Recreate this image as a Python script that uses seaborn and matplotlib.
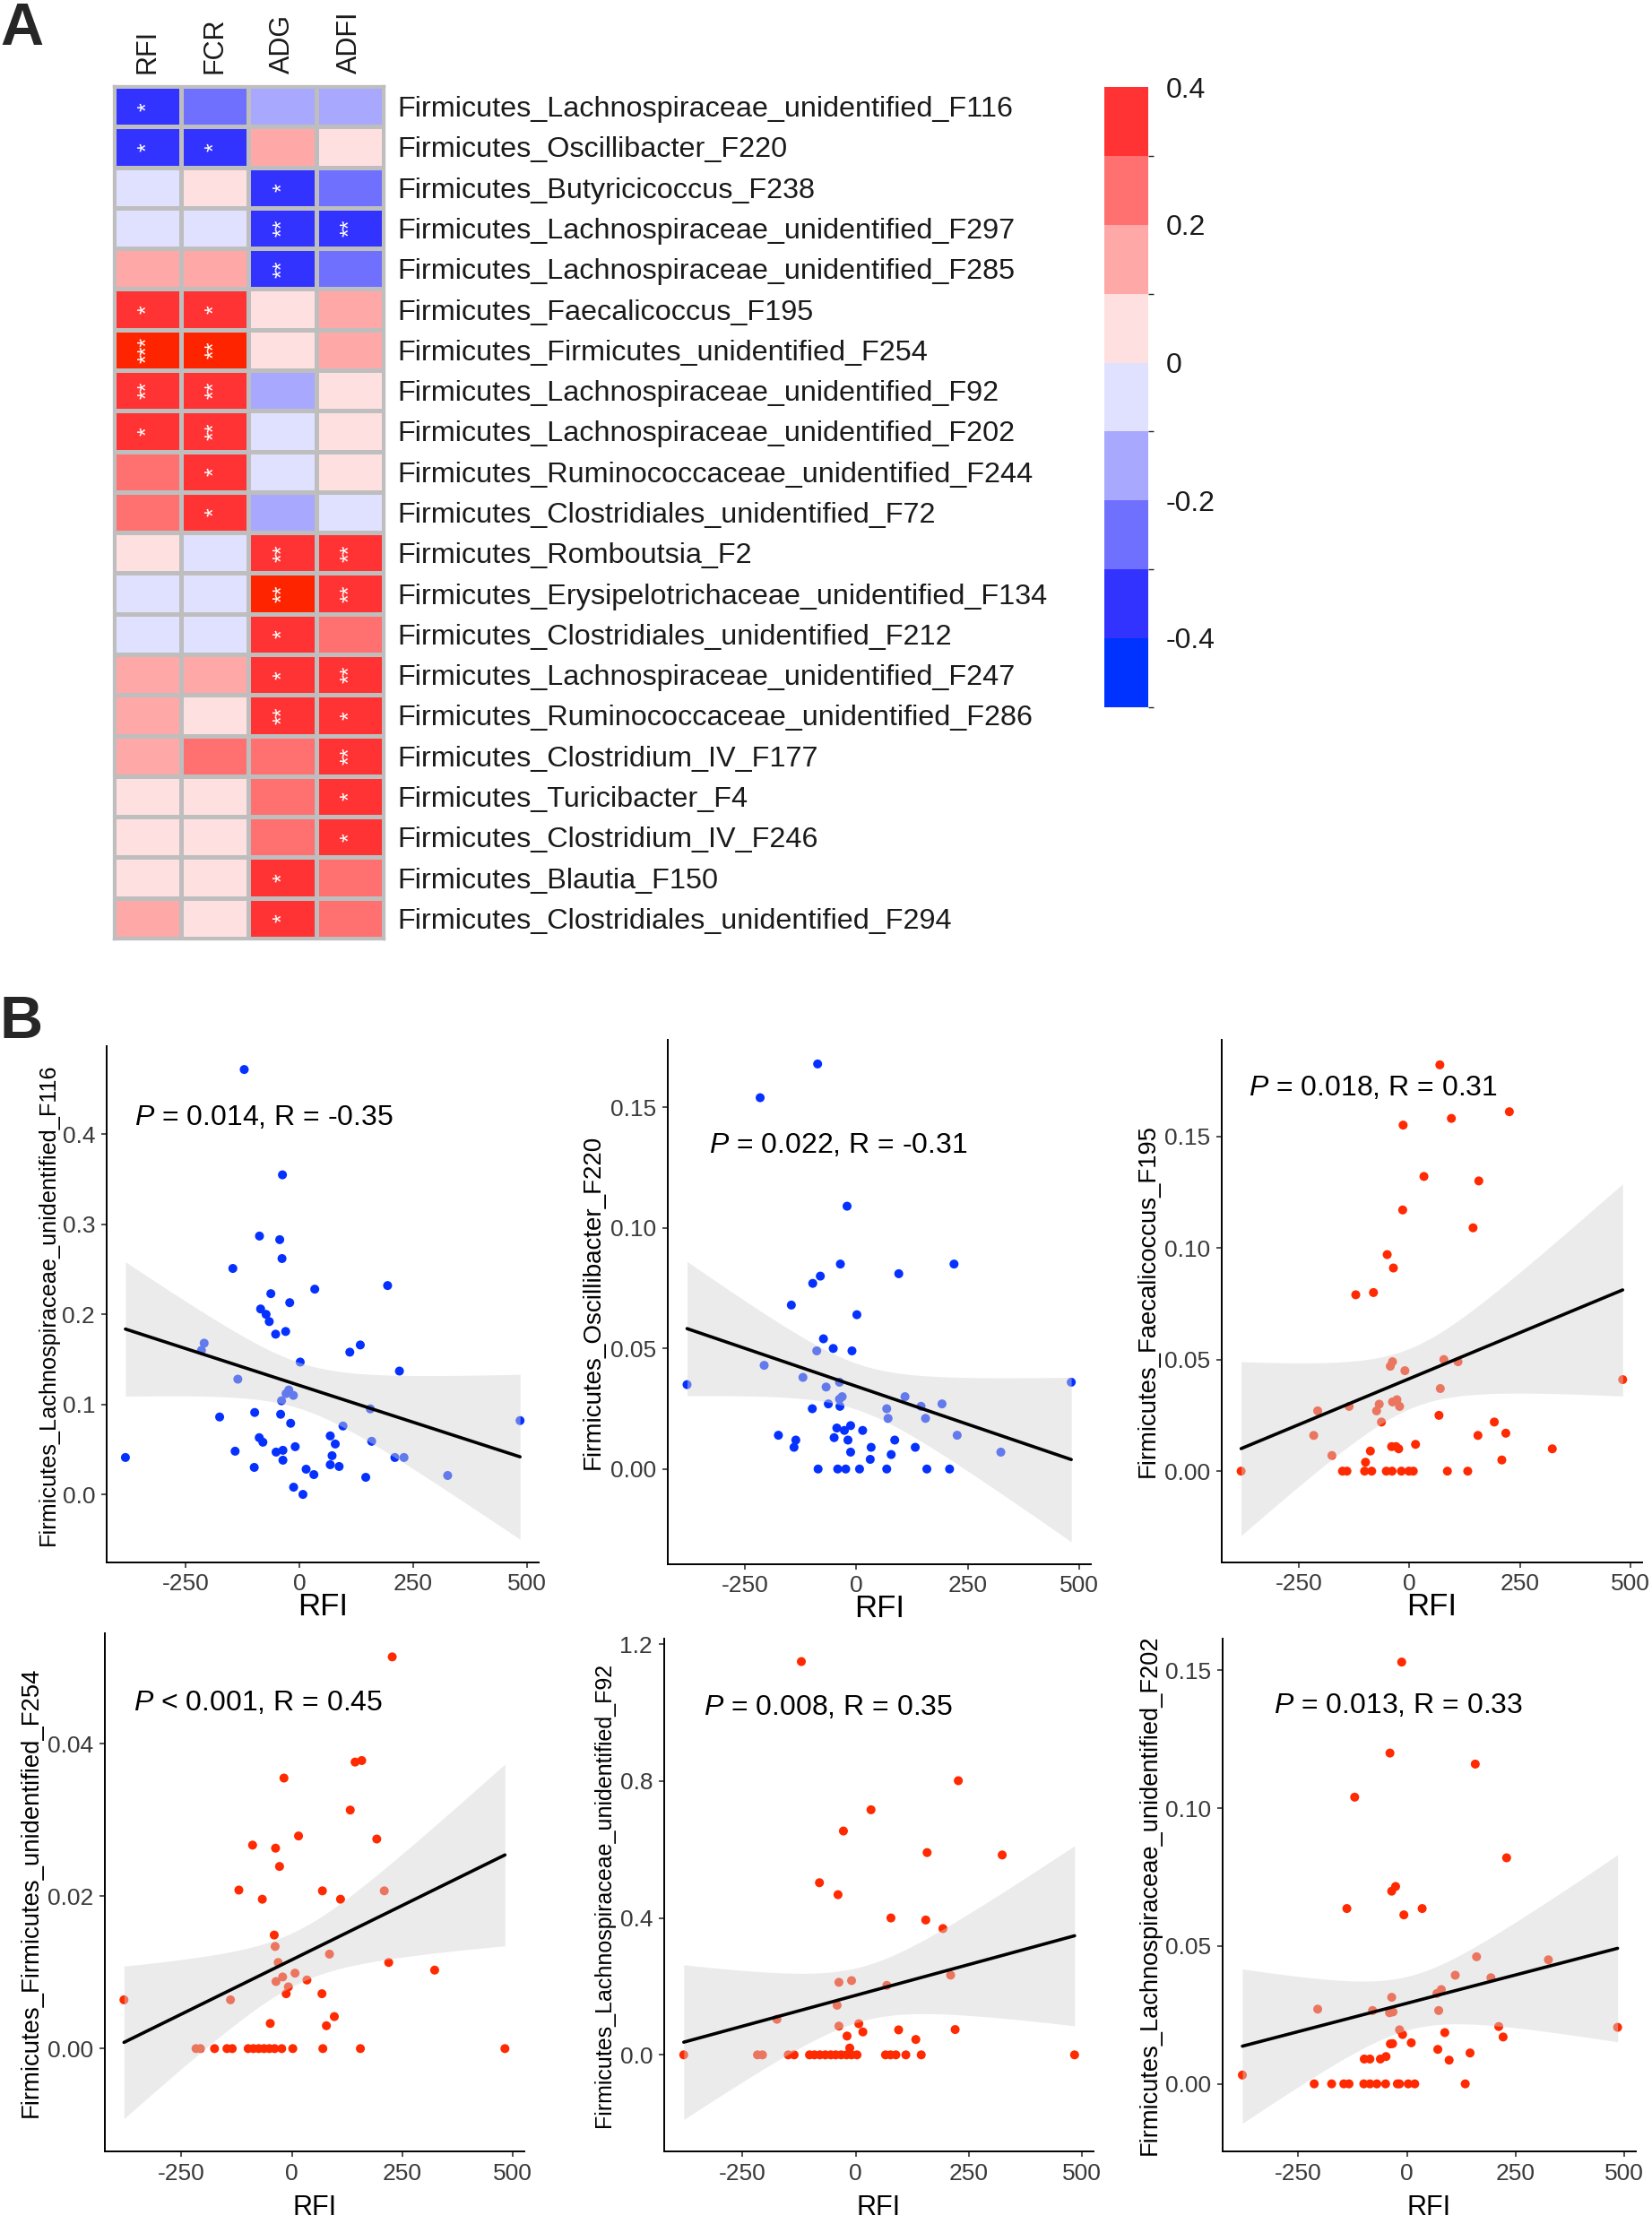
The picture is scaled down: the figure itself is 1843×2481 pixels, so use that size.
import numpy as np
import pandas as pd
import matplotlib
matplotlib.use("Agg")
import matplotlib.pyplot as plt
import seaborn as sns
from matplotlib.colors import ListedColormap, BoundaryNorm
from matplotlib.cm import ScalarMappable

sns.set_theme(style="ticks")
plt.rcParams["font.family"] = ["Liberation Sans", "DejaVu Sans"]
plt.rcParams["mathtext.fontset"] = "custom"
plt.rcParams["mathtext.it"] = "Liberation Sans:italic"
plt.rcParams["mathtext.rm"] = "Liberation Sans"

# ---------------------------------------------------------------
# Panel A: correlation heatmap
# ---------------------------------------------------------------
taxa = [
    "Firmicutes_Lachnospiraceae_unidentified_F116",
    "Firmicutes_Oscillibacter_F220",
    "Firmicutes_Butyricicoccus_F238",
    "Firmicutes_Lachnospiraceae_unidentified_F297",
    "Firmicutes_Lachnospiraceae_unidentified_F285",
    "Firmicutes_Faecalicoccus_F195",
    "Firmicutes_Firmicutes_unidentified_F254",
    "Firmicutes_Lachnospiraceae_unidentified_F92",
    "Firmicutes_Lachnospiraceae_unidentified_F202",
    "Firmicutes_Ruminococcaceae_unidentified_F244",
    "Firmicutes_Clostridiales_unidentified_F72",
    "Firmicutes_Romboutsia_F2",
    "Firmicutes_Erysipelotrichaceae_unidentified_F134",
    "Firmicutes_Clostridiales_unidentified_F212",
    "Firmicutes_Lachnospiraceae_unidentified_F247",
    "Firmicutes_Ruminococcaceae_unidentified_F286",
    "Firmicutes_Clostridium_IV_F177",
    "Firmicutes_Turicibacter_F4",
    "Firmicutes_Clostridium_IV_F246",
    "Firmicutes_Blautia_F150",
    "Firmicutes_Clostridiales_unidentified_F294",
]
traits = ["RFI", "FCR", "ADG", "ADFI"]

r_rfi = [-0.35, -0.31, -0.05, -0.04, 0.15, 0.31, 0.45, 0.35, 0.33, 0.27, 0.26,
         0.05, -0.05, -0.06, 0.14, 0.13, 0.12, 0.06, 0.04, 0.05, 0.14]
r_fcr = [-0.25, -0.32, 0.04, -0.06, 0.14, 0.32, 0.42, 0.36, 0.34, 0.31, 0.30,
         -0.04, -0.05, -0.05, 0.13, 0.06, 0.22, 0.05, 0.05, 0.04, 0.06]
r_adg = [-0.15, 0.16, -0.33, -0.38, -0.36, 0.05, 0.06, -0.15, -0.06, -0.05, -0.17,
         0.37, 0.43, 0.33, 0.32, 0.36, 0.25, 0.24, 0.23, 0.31, 0.32]
r_adfi = [-0.15, 0.05, -0.26, -0.37, -0.25, 0.15, 0.16, 0.05, 0.04, 0.05, -0.05,
          0.36, 0.37, 0.26, 0.36, 0.33, 0.37, 0.31, 0.32, 0.24, 0.25]

sig_rfi = ["*", "*", "", "", "", "*", "***", "**", "*", "", "", "", "", "", "", "", "", "", "", "", ""]
sig_fcr = ["", "*", "", "", "", "*", "**", "**", "**", "*", "*", "", "", "", "", "", "", "", "", "", ""]
sig_adg = ["", "", "*", "**", "**", "", "", "", "", "", "", "**", "**", "*", "*", "**", "", "", "", "*", "*"]
sig_adfi = ["", "", "", "**", "", "", "", "", "", "", "", "**", "**", "", "**", "*", "**", "*", "*", "", ""]

bin_colors = ["#0033FF", "#3333FF", "#7070FF", "#A8A8FF", "#E0E0FF",
              "#FFE0E0", "#FFA8A8", "#FF7070", "#FF3333", "#FF2400"]
bounds = np.round(np.arange(-0.5, 0.51, 0.1), 1)
cbar_ticks = [-0.4, -0.2, 0, 0.2, 0.4]
cbar_labels = ["-0.4", "-0.2", "0", "0.2", "0.4"]

# ---------------------------------------------------------------
# Panel B: abundance vs RFI (RFI, relative abundance) per taxon
# ---------------------------------------------------------------
f116 = [(-121, 0.472), (-37, 0.355), (-87.5, 0.287), (-43, 0.283), (-38, 0.262), (-146, 0.251),
        (34, 0.228), (194, 0.232), (-62.5, 0.223), (-21, 0.213), (-85, 0.206), (-73, 0.200),
        (-66, 0.192), (-30, 0.181), (-52, 0.178), (-209, 0.168), (-215, 0.160), (134, 0.166),
        (111, 0.158), (2, 0.147), (220, 0.137), (-135, 0.128), (-23, 0.116), (-29, 0.112),
        (-13, 0.110), (-39, 0.104), (156, 0.095), (-98, 0.091), (-41, 0.089), (-175, 0.086),
        (485, 0.082), (-19, 0.079), (96, 0.076), (68, 0.065), (-88, 0.063), (-80, 0.058),
        (159, 0.059), (79, 0.056), (-9, 0.053), (-36, 0.049), (-51, 0.047), (-141, 0.048),
        (-382, 0.041), (72, 0.043), (210, 0.041), (230, 0.041), (-36, 0.038), (68, 0.033),
        (87.5, 0.031), (-99, 0.030), (15, 0.028), (32, 0.022), (146, 0.019), (326, 0.021),
        (-12.5, 0.008), (8, 0.000)]

f220 = [(-87, 0.168), (-216, 0.154), (-21, 0.109), (-36, 0.085), (219, 0.085), (-81, 0.080),
        (95, 0.081), (-98, 0.077), (-146, 0.068), (1, 0.064), (-74, 0.054), (-52, 0.050),
        (-10, 0.049), (-89, 0.049), (-207, 0.043), (-380, 0.035), (482, 0.036), (-120, 0.038),
        (-68, 0.034), (-38, 0.036), (-32, 0.030), (-38, 0.029), (109, 0.030), (145, 0.026),
        (192, 0.027), (68, 0.025), (71, 0.021), (155, 0.021), (-63, 0.027), (-37, 0.026),
        (-99, 0.025), (226, 0.014), (324, 0.007), (-175, 0.014), (-136, 0.012), (-140, 0.009),
        (-44, 0.017), (-27, 0.016), (-13, 0.018), (14, 0.016), (-50, 0.013), (-19, 0.012),
        (86, 0.012), (33, 0.009), (132, 0.009), (-13, 0.007), (78, 0.006), (31, 0.004),
        (-86, 0.0), (-42, 0.0), (-24, 0.0), (7, 0.0), (68, 0.0), (158, 0.0), (209, 0.0)]

f195 = [(69, 0.182), (226, 0.161), (95, 0.158), (-14, 0.155), (33, 0.132), (157, 0.130),
        (-15, 0.117), (144, 0.109), (-50, 0.097), (-36, 0.091), (-121, 0.079), (-81, 0.080),
        (-38, 0.049), (78, 0.050), (110, 0.049), (-43, 0.047), (-10, 0.045), (70, 0.037),
        (482, 0.041), (-28, 0.032), (-38, 0.031), (-22, 0.029), (-68, 0.030), (-74, 0.027),
        (-136, 0.029), (-207, 0.027), (-63, 0.022), (-216, 0.016), (-175, 0.007), (67, 0.025),
        (192, 0.022), (218, 0.017), (155, 0.016), (14, 0.012), (-40, 0.011), (-30, 0.011),
        (-24, 0.010), (-88, 0.009), (-99, 0.004), (323, 0.010), (209, 0.005), (-380, 0.0),
        (-151, 0.0), (-141, 0.0), (-101, 0.0), (-85, 0.0), (-52, 0.0), (-39, 0.0), (-18, 0.0),
        (-1, 0.0), (9, 0.0), (86, 0.0), (132, 0.0)]

f254 = [(227, 0.0514), (143, 0.0376), (158, 0.0378), (-18, 0.0355), (132, 0.0313), (15, 0.0279),
        (192, 0.0275), (-89, 0.0267), (-37, 0.0263), (-28, 0.0239), (-120, 0.0208), (69, 0.0207),
        (209, 0.0207), (-67, 0.0196), (110, 0.0196), (-40, 0.0149), (-38, 0.0134), (85, 0.0124),
        (-31, 0.0113), (219, 0.0113), (7, 0.0099), (323, 0.0103), (-21, 0.0094), (34, 0.0090),
        (-36, 0.0088), (-8, 0.0081), (-13, 0.0072), (68, 0.0072), (-380, 0.0064), (-139, 0.0064),
        (96, 0.0042), (78, 0.0030), (-49, 0.0033), (-217, 0.0), (-207, 0.0), (-175, 0.0),
        (-147, 0.0), (-135, 0.0), (-99, 0.0), (-87, 0.0), (-75, 0.0), (-63, 0.0), (-51, 0.0),
        (-39, 0.0), (-23, 0.0), (2, 0.0), (70, 0.0), (155, 0.0), (482, 0.0)]

f92 = [(-120, 1.149), (227, 0.801), (34, 0.716), (-27, 0.654), (158, 0.591), (324, 0.584),
       (-80, 0.503), (-39, 0.468), (78, 0.400), (155, 0.394), (193, 0.369), (210, 0.233),
       (-37, 0.212), (-9, 0.217), (69, 0.203), (-41, 0.145), (-174, 0.104), (-37, 0.084),
       (7, 0.091), (95, 0.073), (220, 0.074), (16, 0.067), (-19, 0.055), (133, 0.045),
       (-13, 0.020), (-380, 0.0), (-217, 0.0), (-206, 0.0), (-149, 0.0), (-136, 0.0),
       (-102, 0.0), (-91, 0.0), (-79, 0.0), (-67, 0.0), (-55, 0.0), (-44, 0.0), (-32, 0.0),
       (-20, 0.0), (-9, 0.0), (3, 0.0), (66, 0.0), (77, 0.0), (89, 0.0), (111, 0.0),
       (145, 0.0), (484, 0.0)]

f202 = [(-12, 0.153), (-39, 0.120), (157, 0.116), (-120, 0.104), (229, 0.082), (-26, 0.0716),
        (-35, 0.0699), (-138, 0.0636), (35, 0.0636), (-7, 0.0613), (160, 0.0461), (325, 0.0450),
        (111, 0.0394), (193, 0.0385), (79, 0.0342), (69, 0.0328), (-35, 0.0314), (-205, 0.0271),
        (-79, 0.0266), (73, 0.0266), (-32, 0.0261), (-40, 0.0258), (-17, 0.0196), (211, 0.0208),
        (484, 0.0205), (-10, 0.0179), (87, 0.0186), (221, 0.0170), (-38, 0.0145), (-33, 0.0146),
        (10, 0.0149), (145, 0.0112), (71, 0.0125), (-98, 0.0090), (-85, 0.0090), (-61, 0.0090),
        (-48, 0.0099), (97, 0.0086), (-378, 0.0032), (-213, 0.0), (-173, 0.0), (-145, 0.0),
        (-133, 0.0), (-99, 0.0), (-85, 0.0), (-69, 0.0), (-49, 0.0), (-22, 0.0), (-17, 0.0),
        (3, 0.0), (18, 0.0), (134, 0.0)]

stat_text = [
    r"$\mathit{P}$ = 0.014, R = -0.35",
    r"$\mathit{P}$ = 0.022, R = -0.31",
    r"$\mathit{P}$ = 0.018, R = 0.31",
    r"$\mathit{P}$ < 0.001, R = 0.45",
    r"$\mathit{P}$ = 0.008, R = 0.35",
    r"$\mathit{P}$ = 0.013, R = 0.33",
]

BLUE = "#0531FF"
RED = "#FF2A00"
W, H = 1843, 2481

fig = plt.figure(figsize=(W / 100, H / 100), dpi=100)

# ---- heatmap ----
corr = pd.DataFrame({"RFI": r_rfi, "FCR": r_fcr, "ADG": r_adg, "ADFI": r_adfi}, index=taxa)
stars = np.array([sig_rfi, sig_fcr, sig_adg, sig_adfi]).T
cmap = ListedColormap(bin_colors)
norm = BoundaryNorm(bounds, cmap.N)

ax_h = fig.add_axes([127 / W, 1 - 1047 / H, 301 / W, 951 / H])
sns.heatmap(corr, ax=ax_h, cmap=cmap, norm=norm, cbar=False,
            linewidths=2.4, linecolor="#BEBEBE",
            annot=stars, fmt="",
            annot_kws=dict(color="white", fontsize=18, rotation=90))
ax_h.xaxis.tick_top()
ax_h.set_xticklabels(traits, rotation=90, fontsize=22)
ax_h.yaxis.tick_right()
ax_h.set_yticklabels(taxa, rotation=0, fontsize=23.3)
ax_h.tick_params(axis="x", length=0, pad=10, colors="#1a1a1a")
ax_h.tick_params(axis="y", length=0, pad=11, colors="#1a1a1a")
ax_h.set_xlabel("")
ax_h.set_ylabel("")
for sp in ax_h.spines.values():
    sp.set_visible(True)
    sp.set_color("#BEBEBE")
    sp.set_linewidth(2.4)

# ---- colour key (shows the -0.5 .. 0.4 range only) ----
key_cmap = ListedColormap(bin_colors[:-1])
key_norm = BoundaryNorm(bounds[:-1], key_cmap.N)
ax_c = fig.add_axes([1231.7 / W, 1 - 788.5 / H, 49.3 / W, 691.2 / H])
sm = ScalarMappable(norm=key_norm, cmap=key_cmap)
cb = fig.colorbar(sm, cax=ax_c, ticks=cbar_ticks)
cb.outline.set_visible(False)
cb.set_ticklabels(cbar_labels)
ax_c.tick_params(length=0, pad=14, labelsize=23, colors="#1a1a1a")

fig.text(0.0, 1 - 50 / H, "A", fontsize=48, fontweight="bold", ha="left", va="baseline")
fig.text(0.0, 1 - 1158 / H, "B", fontsize=48, fontweight="bold", ha="left", va="baseline")


# ---- scatter panels ----
def ci_band(x, y, grid):
    n = len(x)
    b, a = np.polyfit(x, y, 1)
    fit = a + b * grid
    resid = y - (a + b * x)
    s = np.sqrt(np.sum(resid ** 2) / (n - 2))
    sxx = np.sum((x - x.mean()) ** 2)
    se = s * np.sqrt(1 / n + (grid - x.mean()) ** 2 / sxx)
    t = 1.96 + 2.4 / (n - 2)
    return fit - t * se, fit + t * se


panels = [
    dict(data=f116, name="Firmicutes_Lachnospiraceae_unidentified_F116", color=BLUE,
         rect=(118.6, 1167, 601, 1743), ylim=(-0.0756, 0.498), yticks=[0, 0.1, 0.2, 0.3, 0.4],
         fmt="{:.1f}", txt=(-363, 0.418), labx=-0.135, labsize=18.2),
    dict(data=f220, name="Firmicutes_Oscillibacter_F220", color=BLUE,
         rect=(744.6, 1160, 1217, 1745), ylim=(-0.0395, 0.178), yticks=[0, 0.05, 0.10, 0.15],
         fmt="{:.2f}", txt=(-331, 0.134), labx=-0.176, labsize=20),
    dict(data=f195, name="Firmicutes_Faecalicoccus_F195", color=RED,
         rect=(1362.9, 1160, 1832, 1743), ylim=(-0.0409, 0.1932), yticks=[0, 0.05, 0.10, 0.15],
         fmt="{:.2f}", txt=(-364, 0.1717), labx=-0.175, labsize=19.8),
    dict(data=f254, name="Firmicutes_Firmicutes_unidentified_F254", color=RED,
         rect=(116.6, 1822, 585, 2400), ylim=(-0.01349, 0.0545), yticks=[0, 0.02, 0.04],
         fmt="{:.2f}", txt=(-358, 0.0453), labx=-0.175, labsize=19.8),
    dict(data=f92, name="Firmicutes_Lachnospiraceae_unidentified_F92", color=RED,
         rect=(740.6, 1828, 1220, 2400), ylim=(-0.282, 1.216), yticks=[0, 0.4, 0.8, 1.2],
         fmt="{:.1f}", txt=(-337, 1.014), labx=-0.138, labsize=18),
    dict(data=f202, name="Firmicutes_Lachnospiraceae_unidentified_F202", color=RED,
         rect=(1363.7, 1828, 1825, 2400), ylim=(-0.0245, 0.1615), yticks=[0, 0.05, 0.10, 0.15],
         fmt="{:.2f}", txt=(-307, 0.137), labx=-0.175, labsize=19.6),
]

for p, label in zip(panels, stat_text):
    x0, y0, x1, y1 = p["rect"]
    ax = fig.add_axes([x0 / W, 1 - y1 / H, (x1 - x0) / W, (y1 - y0) / H])
    df = pd.DataFrame(p["data"], columns=["RFI", "abund"])

    sns.scatterplot(data=df, x="RFI", y="abund", ax=ax, color=p["color"], s=52,
                    edgecolor="none", linewidth=0, zorder=2)
    xs = np.linspace(df["RFI"].min(), df["RFI"].max(), 200)
    lo, hi = ci_band(df["RFI"].values, df["abund"].values, xs)
    ax.fill_between(xs, lo, hi, color="#d4d4d4", alpha=0.45, lw=0, zorder=3)
    sns.regplot(data=df, x="RFI", y="abund", ax=ax, scatter=False, ci=None,
                color="black", line_kws=dict(lw=2.6, zorder=4))

    ax.set_xlim(-424, 526)
    ax.set_ylim(*p["ylim"])
    ax.set_xticks([-250, 0, 250, 500])
    ax.set_xticklabels(["-250", "0", "250", "500"])
    ax.set_yticks(p["yticks"])
    ax.set_yticklabels([p["fmt"].format(v) for v in p["yticks"]])

    sns.despine(ax=ax)
    for side in ["left", "bottom"]:
        ax.spines[side].set_color("black")
        ax.spines[side].set_linewidth(1.4)
    ax.tick_params(direction="out", length=4, width=1.2, color="#333333",
                   labelcolor="#3a3a3a", labelsize=19, pad=5)

    if y1 > 2000:
        # bottom row: keep the title inside the canvas
        ax.set_xlabel("RFI", fontsize=22, color="black")
        ax.xaxis.label.set_va("bottom")
        ax.xaxis.set_label_coords(0.5, -(H - 3 - y1) / (y1 - y0))
    else:
        ax.set_xlabel("RFI", fontsize=25, color="black")
        ax.xaxis.label.set_va("center")
        ax.xaxis.set_label_coords(0.5, -50 / (y1 - y0))
    ax.set_ylabel(p["name"], fontsize=p["labsize"], color="black")
    ax.yaxis.label.set_va("center")
    ax.yaxis.set_label_coords(p["labx"], 0.5)

    ax.text(p["txt"][0], p["txt"][1], label, fontsize=23, ha="left", va="center",
            color="black", zorder=5)

fig.savefig("out.png", dpi=100)
